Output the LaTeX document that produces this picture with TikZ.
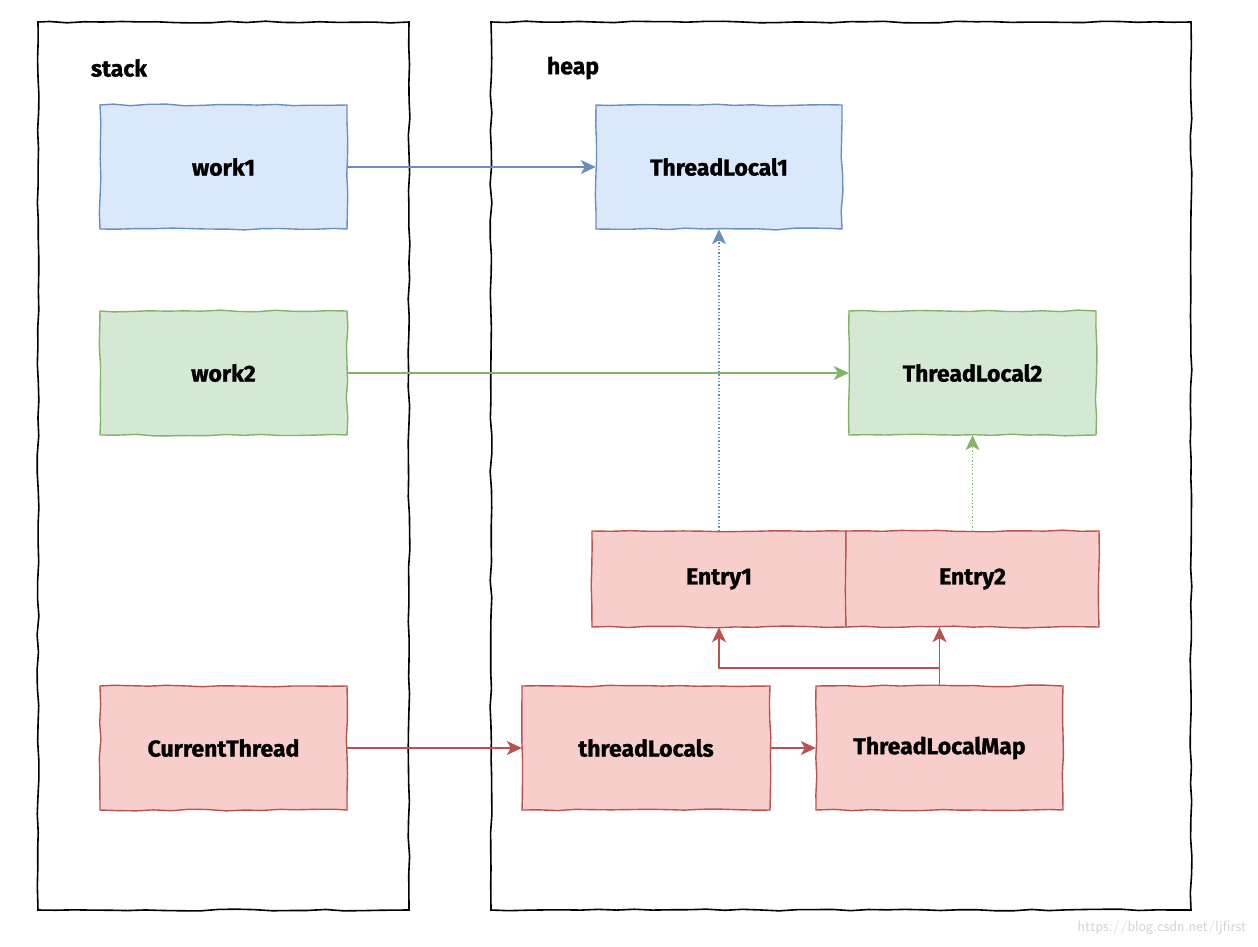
\documentclass[tikz,border=0pt]{standalone}
\usepackage{fontspec}
\setmainfont{Fira Sans}[FakeBold=1.2]
\usetikzlibrary{arrows.meta,decorations.pathmorphing}
\definecolor{bluefill}{HTML}{DAE8FC}
\definecolor{bluedraw}{HTML}{6C8EBF}
\definecolor{greenfill}{HTML}{D5E8D4}
\definecolor{greendraw}{HTML}{82B366}
\definecolor{redfill}{HTML}{F8CECC}
\definecolor{reddraw}{HTML}{B85450}
\begin{document}
\begin{tikzpicture}[x=1pt,y=-1pt,
  sketch/.style={decorate,decoration={random steps,segment length=18pt,amplitude=0.9pt}},
  box/.style={rectangle,inner sep=0pt,draw=none,fill=none,font=\fontsize{23}{27}\selectfont\bfseries},
  conn/.style={line width=1.3pt,-{Stealth[length=15pt,width=14pt,inset=4pt]}},
  lbl/.style={font=\fontsize{23}{27}\selectfont\bfseries},
  bluebg/.style={fill=bluefill,draw=bluedraw,line width=1.4pt,sketch},
  greenbg/.style={fill=greenfill,draw=greendraw,line width=1.4pt,sketch},
  redbg/.style={fill=redfill,draw=reddraw,line width=1.4pt,sketch}
]
\useasboundingbox (0,0) rectangle (1258,946);
\pgfmathsetseed{7}
% containers
\draw[line width=1.6pt,sketch] (38,22) rectangle (409,910);
\draw[line width=1.6pt,sketch] (491,22) rectangle (1191,910);
\node[lbl] (stacklbl) at (119,68) {stack};
\node[lbl] (heaplbl) at (573,68) {heap};
% box backgrounds
\path[bluebg] (100,105) rectangle (347,229);
\path[bluebg] (596,105) rectangle (842,229);
\path[greenbg] (100,311) rectangle (347,435);
\path[greenbg] (849,311) rectangle (1096,435);
\path[redbg] (592,531) rectangle (846,627);
\path[redbg] (846,531) rectangle (1099,627);
\path[redbg] (100,686) rectangle (347,810);
\path[redbg] (522,686) rectangle (770,810);
\path[redbg] (816,686) rectangle (1063,810);
% box nodes
\node[box,minimum width=247pt,minimum height=124pt] (work1) at (223.5,167) {work1};
\node[box,minimum width=246pt,minimum height=124pt] (tl1) at (719,167) {ThreadLocal1};
\node[box,minimum width=247pt,minimum height=124pt] (work2) at (223.5,373) {work2};
\node[box,minimum width=247pt,minimum height=124pt] (tl2) at (972.5,373) {ThreadLocal2};
\node[box,minimum width=254pt,minimum height=96pt] (e1) at (719,579) {Entry1};
\node[box,minimum width=253pt,minimum height=96pt] (e2) at (972.5,579) {Entry2};
\node[box,minimum width=247pt,minimum height=124pt] (ct) at (223.5,748) {CurrentThread};
\node[box,minimum width=248pt,minimum height=124pt] (tls) at (646,748) {threadLocals};
\node[box,minimum width=247pt,minimum height=124pt] (tlm) at (939.5,748) {ThreadLocalMap};
% connectors
\draw[conn,bluedraw] (work1.east) -- (tl1.west);
\draw[conn,greendraw] (work2.east) -- (tl2.west);
\draw[conn,bluedraw,dotted] (e1.north) -- (tl1.south);
\draw[conn,greendraw,dotted] (e2.north) -- (tl2.south);
\draw[conn,reddraw] (ct.east) -- (tls.west);
\draw[conn,reddraw] (tls.east) -- (tlm.west);
\coordinate (split) at (tlm.north |- 0,668);
\draw[conn,reddraw] (tlm.north) -- (tlm.north |- e2.south);
\draw[conn,reddraw] (split) -| (e1.south);
% watermark
\node[anchor=east,text=black!18,font=\fontsize{15}{18}\selectfont\sffamily] (wm) at (1250,928) {https://blog.csdn.net/ljfirst};
\end{tikzpicture}
\end{document}
